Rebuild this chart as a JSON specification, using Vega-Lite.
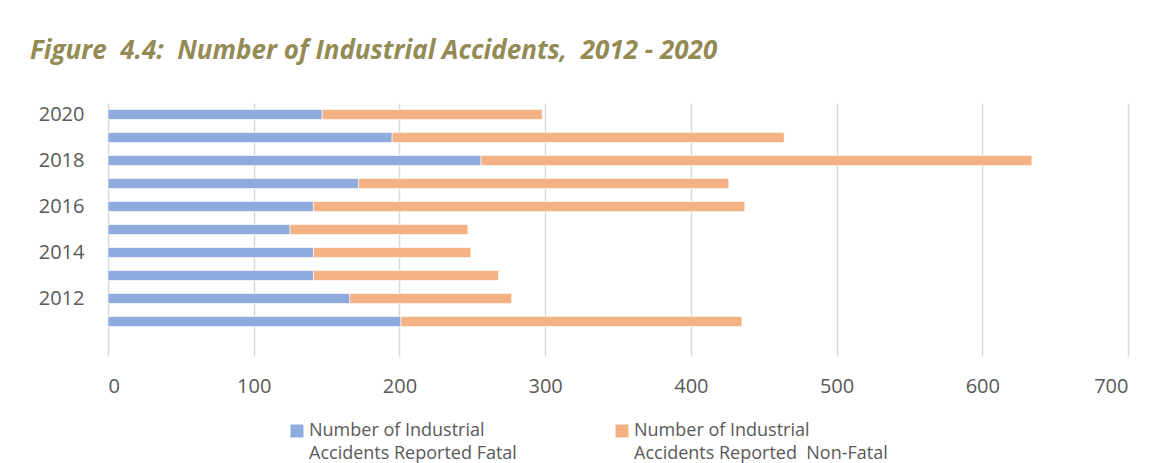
{
  "$schema": "https://vega.github.io/schema/vega-lite/v6.json",
  "width": 1020,
  "height": 253,
  "autosize": {"type": "none"},
  "padding": {"left": 108, "top": 103, "right": 24, "bottom": 107},
  "background": "white",
  "title": {
    "text": "Figure\u00a0 4.4:\u00a0 Number of Industrial Accidents,\u00a0 2012 - 2020",
    "anchor": "start",
    "frame": "group",
    "dx": -78,
    "dy": 25,
    "offset": 43,
    "baseline": "alphabetic",
    "font": "Open Sans",
    "fontSize": 26,
    "fontWeight": "bold",
    "fontStyle": "italic",
    "color": "#948A54"
  },
  "config": {
    "view": {"stroke": null},
    "font": "Open Sans",
    "style": {"guide-label": {"lineHeight": 23}}
  },
  "data": {
    "values": [
      {"year": "2020", "type": "Fatal", "count": 147},
      {"year": "2020", "type": "Non-Fatal", "count": 151},
      {"year": "2019", "type": "Fatal", "count": 195},
      {"year": "2019", "type": "Non-Fatal", "count": 269},
      {"year": "2018", "type": "Fatal", "count": 256},
      {"year": "2018", "type": "Non-Fatal", "count": 378},
      {"year": "2017", "type": "Fatal", "count": 172},
      {"year": "2017", "type": "Non-Fatal", "count": 254},
      {"year": "2016", "type": "Fatal", "count": 141},
      {"year": "2016", "type": "Non-Fatal", "count": 296},
      {"year": "2015", "type": "Fatal", "count": 125},
      {"year": "2015", "type": "Non-Fatal", "count": 122},
      {"year": "2014", "type": "Fatal", "count": 141},
      {"year": "2014", "type": "Non-Fatal", "count": 108},
      {"year": "2013", "type": "Fatal", "count": 141},
      {"year": "2013", "type": "Non-Fatal", "count": 127},
      {"year": "2012", "type": "Fatal", "count": 166},
      {"year": "2012", "type": "Non-Fatal", "count": 111},
      {"year": "2011", "type": "Fatal", "count": 201},
      {"year": "2011", "type": "Non-Fatal", "count": 234}
    ]
  },
  "mark": {"type": "bar", "size": 10, "stroke": "white", "strokeWidth": 0.6},
  "encoding": {
    "y": {
      "field": "year",
      "type": "ordinal",
      "sort": ["2020", "2019", "2018", "2017", "2016", "2015", "2014", "2013", "2012", "2011"],
      "scale": {"paddingInner": 0, "paddingOuter": 0.5, "align": 0},
      "axis": {
        "title": null,
        "values": ["2020", "2018", "2016", "2014", "2012"],
        "ticks": false,
        "domain": false,
        "grid": false,
        "labelPadding": 24,
        "labelFont": "Open Sans",
        "labelFontSize": 20,
        "labelColor": "#595959"
      }
    },
    "x": {
      "field": "count",
      "type": "quantitative",
      "aggregate": "sum",
      "stack": "zero",
      "scale": {"domain": [0, 700], "nice": false},
      "axis": {
        "title": null,
        "values": [0, 100, 200, 300, 400, 500, 600, 700],
        "ticks": false,
        "domain": false,
        "grid": true,
        "gridColor": "#d9d9d9",
        "gridWidth": 1.5,
        "labelPadding": 20,
        "labelFont": "Open Sans",
        "labelFontSize": 20,
        "labelColor": "#595959"
      }
    },
    "color": {
      "field": "type",
      "type": "nominal",
      "scale": {"domain": ["Fatal", "Non-Fatal"], "range": ["#8FAADC", "#F4B183"]},
      "legend": {
        "title": null,
        "orient": "none",
        "legendX": 180,
        "legendY": 319,
        "direction": "horizontal",
        "columns": 2,
        "columnPadding": 96,
        "symbolType": "square",
        "symbolSize": 169,
        "symbolStrokeWidth": 0,
        "labelOffset": 3,
        "labelLimit": 400,
        "labelFont": "Open Sans",
        "labelFontSize": 18,
        "labelColor": "#595959",
        "labelBaseline": "middle",
        "labelExpr": "datum.label == 'Fatal' ? ['Number of Industrial', 'Accidents Reported Fatal'] : ['Number of Industrial', 'Accidents Reported\u00a0 Non-Fatal']"
      }
    },
    "order": {"field": "type", "sort": "ascending"}
  }
}
